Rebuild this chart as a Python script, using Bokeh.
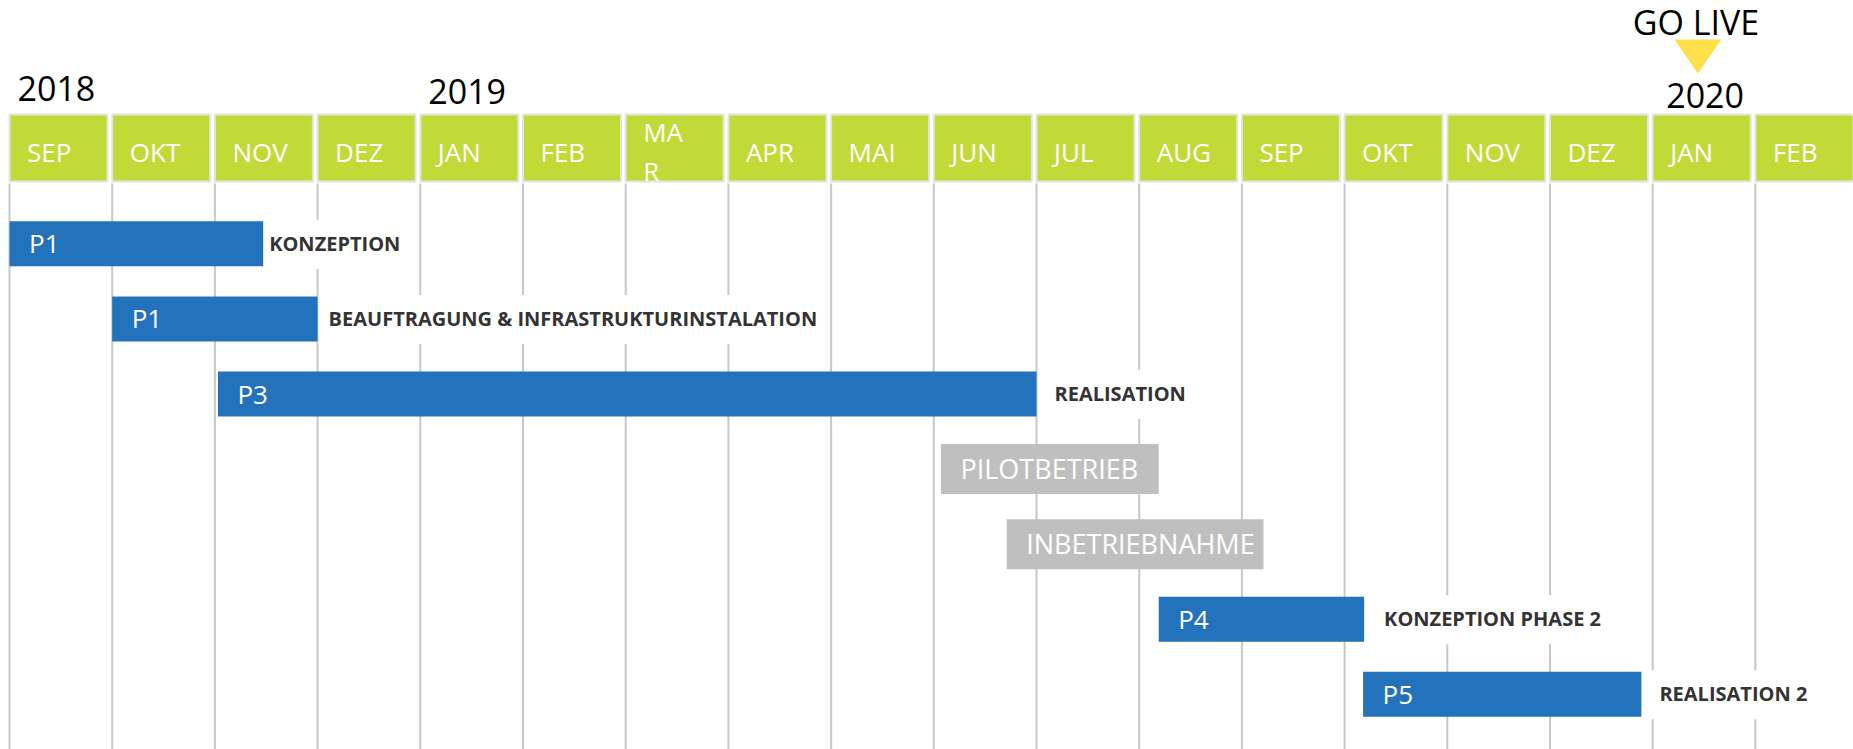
from bokeh.plotting import figure
from bokeh.models import ColumnDataSource, Range1d
from bokeh.core.properties import value
from bokeh.embed import file_html
from bokeh.resources import INLINE

# ---------------- data ----------------
months = ["SEP", "OKT", "NOV", "DEZ", "JAN", "FEB", "MAR", "APR", "MAI",
          "JUN", "JUL", "AUG", "SEP", "OKT", "NOV", "DEZ", "JAN", "FEB"]
years = ["2018", "2019", "2020"]
year_month_idx = [0, 4, 16]

task_codes = ["P1", "P1", "P3", "PILOTBETRIEB", "INBETRIEBNAHME", "P4", "P5"]
task_names = ["KONZEPTION", "BEAUFTRAGUNG & INFRASTRUKTURINSTALATION", "REALISATION",
              "", "", "KONZEPTION PHASE 2", "REALISATION 2"]
# months after 1 Sep 2018
task_start = [0.0, 1.0, 2.03, 9.07, 9.71, 11.19, 13.18]
task_end = [2.47, 3.0, 10.0, 11.19, 12.21, 13.19, 15.89]
task_kind = ["phase", "phase", "phase", "betrieb", "betrieb", "phase", "phase"]

go_live_label = "GO LIVE"
go_live_month = 16.44

# ---------------- layout / style ----------------
W, H = 1853, 749
PX_M = 102.7          # pixels per month
GRID0 = 9.0           # page x of month 0
FONT = value("Open Sans")
BLUE, GREY, GREEN = "#2272bc", "#bfbfbf", "#c2da37"
BL = 0.4              # baseline correction (em)
PAD_L = 12            # left padding of label background

ROW0, PITCH = 243.3, 75.09
label_gap = [8, 13, 20, 0, 0, 22, 20]
year_dx = [8, 8, 13.5]
year_base = [102, 105, 109]


def base(y, fs):
    return y - BL * fs


x0 = (0 - GRID0) / PX_M
p = figure(width=W, height=H, output_backend="svg", toolbar_location=None,
           x_range=Range1d(x0, x0 + W / PX_M), y_range=Range1d(H, 0),
           x_axis_type=None, y_axis_type=None, min_border=0,
           outline_line_color=None, background_fill_color="white",
           border_fill_color="white")
p.grid.visible = False

n = len(months)
# header boxes
p.quad(left=list(range(n)), right=[k + 98 / PX_M for k in range(n)],
       top=[114] * n, bottom=[181] * n, fill_color=GREEN,
       line_color="#e4e4e4", line_width=2)

# month labels (MAR wraps in the original)
mx, my, mt = [], [], []
for k, m in enumerate(months):
    if m == "MAR":
        mx += [k, k]; my += [base(142, 26), base(181, 26)]; mt += [m[:2], m[2:]]
    else:
        mx.append(k); my.append(base(162, 26)); mt.append(m)
p.text(x=mx, y=my, text=mt, x_offset=17.5, text_font=FONT, text_font_size="26px",
       text_color="white", text_baseline="alphabetic", text_align="left")

# vertical grid lines
p.segment(x0=list(range(n + 1)), x1=list(range(n + 1)), y0=[183] * (n + 1),
          y1=[H] * (n + 1), line_color="#c8c8c8", line_width=2)

# task rows
centers = [ROW0 + PITCH * i for i in range(len(task_codes))]
heights = [45 if k == "phase" else 50 for k in task_kind]
colors = [BLUE if k == "phase" else GREY for k in task_kind]
inner_fs = [26 if k == "phase" else 27 for k in task_kind]

lab = ColumnDataSource(dict(
    x=[e for e, t in zip(task_end, task_names) if t],
    y=[c for c, t in zip(centers, task_names) if t],
    t=[t for t in task_names if t],
    dx=[g - PAD_L for g, t in zip(label_gap, task_names) if t]))
p.text(x="x", y="y", text="t", x_offset="dx", y_offset=8.5 - BL * 20, source=lab,
       text_font=FONT, text_font_size="20px", text_font_style="bold",
       text_color="#333333", text_baseline="alphabetic", text_align="left",
       background_fill_color="white", padding=(10, 10, 10, PAD_L))

bars = ColumnDataSource(dict(
    left=task_start, right=task_end,
    top=[c - h / 2 for c, h in zip(centers, heights)],
    bottom=[c + h / 2 for c, h in zip(centers, heights)],
    color=colors, code=task_codes, y=centers,
    fs=[f"{f}px" for f in inner_fs],
    dy=[10 - BL * f for f in inner_fs]))
p.quad(left="left", right="right", top="top", bottom="bottom", source=bars,
       fill_color="color", line_color=None)
p.text(x="left", y="y", text="code", source=bars, x_offset=19.5, y_offset="dy",
       text_font=FONT, text_font_size="fs", text_color="white",
       text_baseline="alphabetic", text_align="left")

# years
p.text(x=year_month_idx, y=[base(b, 34) for b in year_base], text=years,
       x_offset=year_dx, text_font=FONT, text_font_size="34px", text_color="black",
       text_baseline="alphabetic", text_align="left")

# go live marker
p.text(x=[go_live_month], y=[base(35, 34)], text=[go_live_label], x_offset=-2,
       text_font=FONT, text_font_size="34px", text_color="black",
       text_baseline="alphabetic", text_align="center")
hw = 23.5 / PX_M
p.patch(x=[go_live_month - hw, go_live_month + hw, go_live_month],
        y=[39, 39, 73], fill_color="#ffe04a", line_color=None)

open("out.html", "w").write(file_html(p, INLINE))
